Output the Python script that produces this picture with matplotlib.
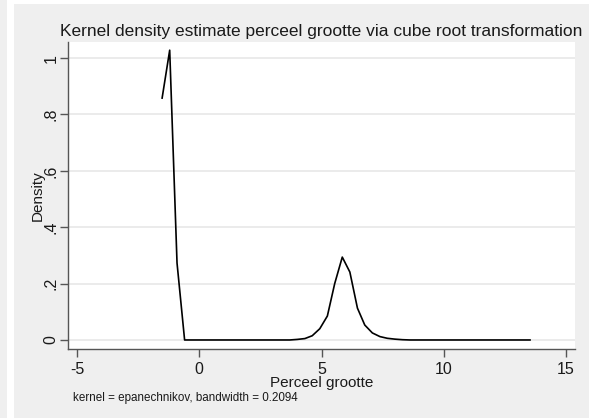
import matplotlib.pyplot as plt
from matplotlib.patches import Rectangle

plt.rcParams['font.family'] = ['Liberation Sans', 'DejaVu Sans']
plt.rcParams['axes.unicode_minus'] = False

# evaluation points of the kernel density (cube root of parcel size)
grid_x = [-1.52, -1.21, -0.91, -0.60, -0.29, 0.02, 0.32, 0.63, 0.94, 1.24,
          1.55, 1.86, 2.17, 2.47, 2.78, 3.09, 3.39, 3.70, 4.01, 4.32,
          4.62, 4.93, 5.24, 5.54, 5.85, 6.16, 6.47, 6.77, 7.08, 7.39,
          7.69, 8.00, 8.31, 8.62, 8.92, 9.23, 9.54, 9.84, 10.15, 10.46,
          10.77, 11.07, 11.38, 11.69, 11.99, 12.30, 12.61, 12.91, 13.22, 13.53]
density = [0.858, 1.028, 0.273, 0.0, 0.0, 0.0, 0.0, 0.0, 0.0, 0.0,
           0.0, 0.0, 0.0, 0.0, 0.0, 0.0, 0.0, 0.0, 0.002, 0.005,
           0.015, 0.04, 0.085, 0.20, 0.294, 0.241, 0.113, 0.053, 0.025, 0.012,
           0.006, 0.003, 0.001, 0.0, 0.0, 0.0, 0.0, 0.0, 0.0, 0.0,
           0.0, 0.0, 0.0, 0.0, 0.0, 0.0, 0.0, 0.0, 0.0, 0.0]

xticks = [-5, 0, 5, 10, 15]
yticks = [0, 0.2, 0.4, 0.6, 0.8, 1.0]
ytick_labels = ['0', '.2', '.4', '.6', '.8', '1']

W, H = 589, 418
fig = plt.figure(figsize=(W / 100, H / 100), dpi=100, facecolor='#efefef')

# white frame strips around the graph region
fig.patches.append(Rectangle((7 / W, 0), 7 / W, 1, transform=fig.transFigure,
                             facecolor='white', edgecolor='none', zorder=0))
fig.patches.append(Rectangle((14 / W, 1 - 4 / H), 1, 4 / H, transform=fig.transFigure,
                             facecolor='white', edgecolor='none', zorder=0))

ax = fig.add_axes([68 / W, (H - 349) / H, (575 - 68) / W, (349 - 42) / H])
ax.set_facecolor('white')

ax.plot(grid_x, density, color='black', lw=1.2, zorder=3)

ax.set_xlim(-5.37, 15.37)
ax.set_ylim(-0.032, 1.057)
ax.set_xticks(xticks)
ax.set_yticks(yticks)
ax.set_yticklabels(ytick_labels, rotation=90, va='center')
ax.grid(axis='y', color='#e8e8e8', lw=1.2)
ax.set_axisbelow(True)

for side in ['top', 'right']:
    ax.spines[side].set_visible(False)
for side in ['left', 'bottom']:
    ax.spines[side].set_color('#555555')
    ax.spines[side].set_linewidth(1.0)
ax.tick_params(axis='both', colors='#555555', labelcolor='#1a1a1a',
               labelsize=11.5, length=6, width=1.0)
ax.tick_params(axis='x', pad=3)
ax.tick_params(axis='y', pad=1)

ax.set_title('Kernel density estimate perceel grootte via cube root transformation',
             fontsize=12.5, color='#1a1a1a', pad=4)
ax.set_xlabel('Perceel grootte', fontsize=11, color='#1a1a1a', labelpad=0)
ax.set_ylabel('Density', fontsize=11, color='#1a1a1a', labelpad=-1)

fig.text(73 / W, 1 - 398 / H, 'kernel = epanechnikov, bandwidth = 0.2094',
         fontsize=8.4, color='#1a1a1a', va='center', ha='left')

fig.savefig('out.png', dpi=100, facecolor=fig.get_facecolor())
